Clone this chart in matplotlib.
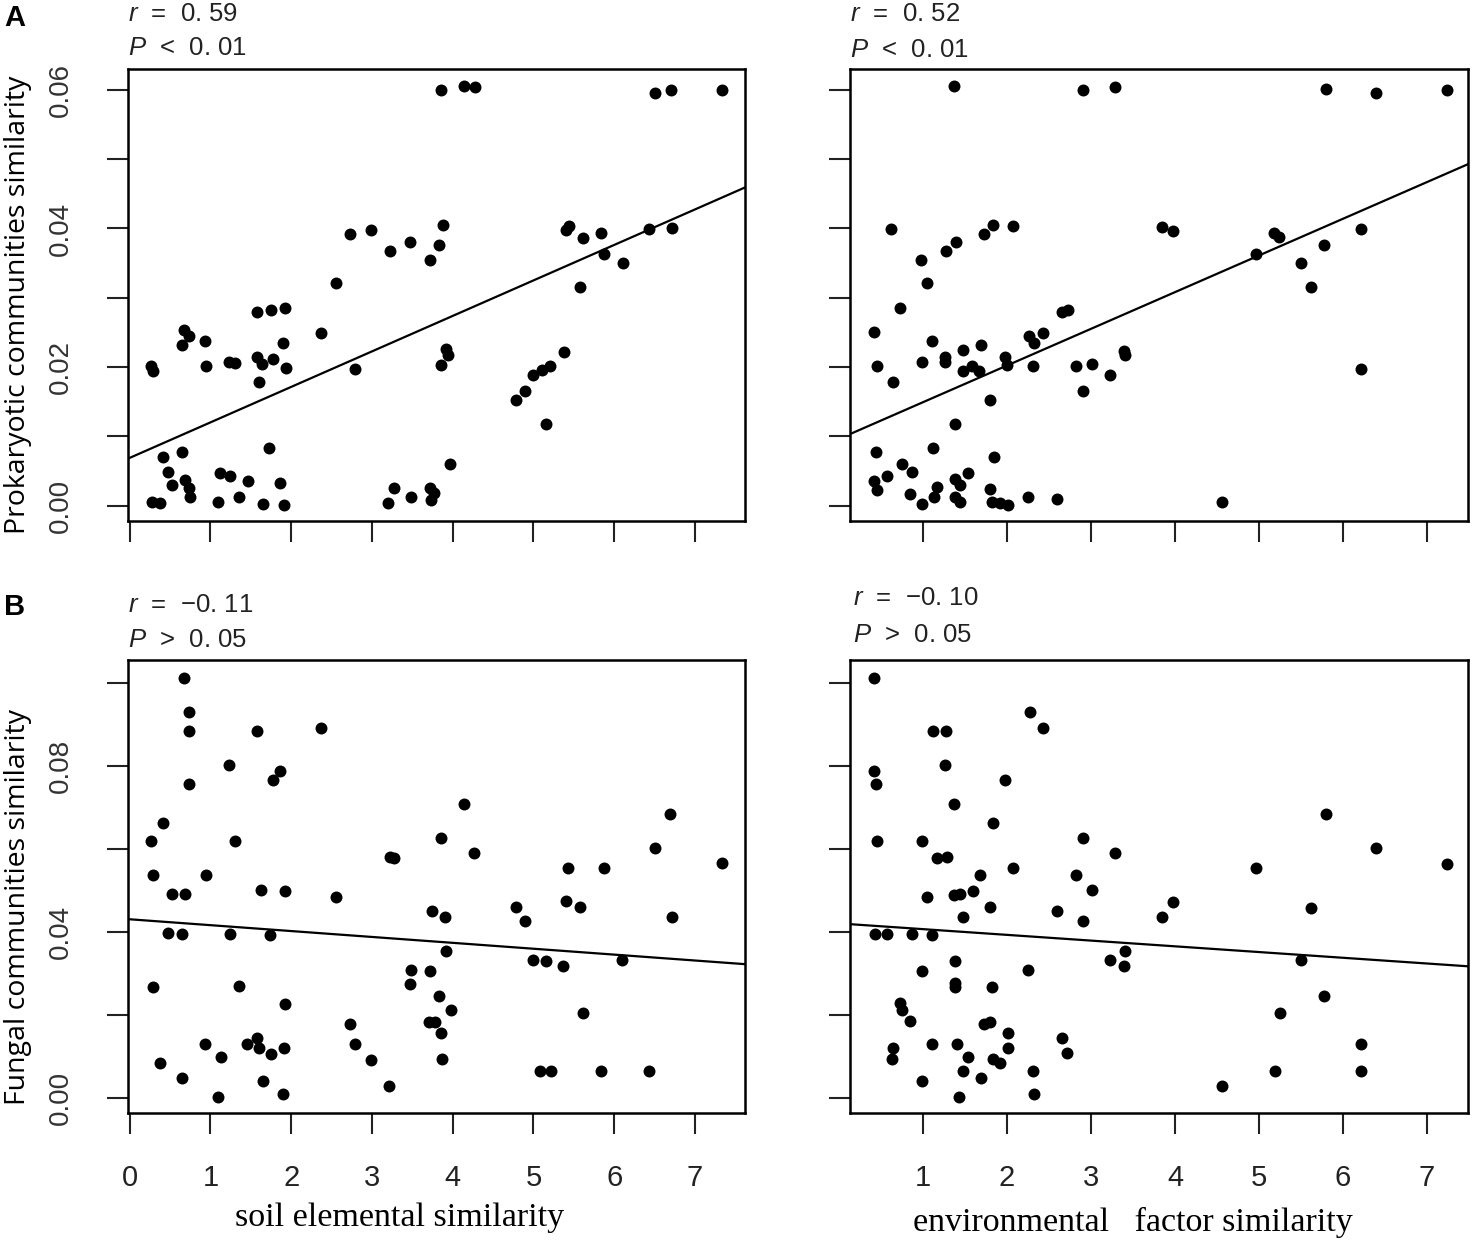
import matplotlib
matplotlib.use("Agg")
import matplotlib.pyplot as plt
import numpy as np

plt.rcParams['font.family'] = ['Liberation Sans', 'DejaVu Sans']
plt.rcParams['mathtext.fontset'] = 'custom'
plt.rcParams['mathtext.it'] = 'Liberation Sans:italic'
plt.rcParams['mathtext.rm'] = 'Liberation Sans'

# ---- data ----
# A, left: prokaryotic similarity vs soil elemental similarity
soil_x_prok = [3.86, 4.14, 4.28, 6.51, 6.70, 7.33, 2.73, 2.99, 3.22, 3.47, 3.83, 3.88, 3.72, 2.56,
               5.40, 5.44, 5.62, 5.84, 6.43, 6.72, 5.88, 6.11, 5.58, 1.58, 1.75, 1.93, 2.37, 0.67,
               0.74, 0.65, 0.93, 1.90, 0.27, 0.29, 0.95, 1.23, 1.31, 1.58, 1.64, 1.77, 1.94, 1.60,
               2.79, 3.92, 3.94, 3.86, 5.38, 5.21, 5.11, 5.00, 4.90, 4.78, 5.16, 0.41, 0.65, 1.73,
               0.48, 0.52, 0.68, 0.74, 0.75, 1.12, 1.24, 1.46, 1.86, 0.28, 0.38, 1.10, 1.36, 1.65,
               1.91, 3.97, 3.27, 3.20, 3.49, 3.72, 3.77, 3.73]
prok_soil_y = [0.0600, 0.0606, 0.0604, 0.0595, 0.0600, 0.0599, 0.0392, 0.0398, 0.0368, 0.0381,
               0.0376, 0.0405, 0.0355, 0.0321, 0.0398, 0.0404, 0.0386, 0.0393, 0.0399, 0.0401,
               0.0363, 0.0350, 0.0315, 0.0279, 0.0282, 0.0285, 0.0249, 0.0253, 0.0245, 0.0232,
               0.0238, 0.0235, 0.0202, 0.0195, 0.0202, 0.0208, 0.0206, 0.0215, 0.0205, 0.0212,
               0.0198, 0.0178, 0.0197, 0.0226, 0.0218, 0.0203, 0.0222, 0.0202, 0.0196, 0.0189,
               0.0165, 0.0152, 0.0118, 0.0071, 0.0077, 0.0084, 0.0049, 0.0030, 0.0037, 0.0025,
               0.0013, 0.0047, 0.0043, 0.0036, 0.0033, 0.0006, 0.0004, 0.0006, 0.0013, 0.0003,
               0.0001, 0.0060, 0.0026, 0.0004, 0.0013, 0.0025, 0.0018, 0.0009]

# A, right: prokaryotic similarity vs environmental factor similarity
env_x_prok = [1.37, 2.90, 3.29, 5.80, 6.39, 7.24, 0.62, 0.98, 1.27, 1.39, 1.72, 1.83, 2.07, 1.05,
              0.73, 3.84, 3.98, 5.18, 5.24, 4.96, 5.77, 6.22, 5.50, 5.62, 6.21, 0.42, 1.11, 0.45,
              0.64, 0.99, 1.26, 1.26, 1.48, 1.69, 1.48, 1.58, 1.67, 1.97, 2.00, 2.26, 2.32, 2.43,
              2.66, 2.73, 2.31, 2.82, 3.01, 3.23, 3.39, 3.41, 2.91, 1.80, 1.38, 0.44, 1.12, 1.84,
              0.75, 0.87, 0.57, 0.42, 0.45, 1.53, 1.38, 1.44, 1.17, 1.13, 0.84, 0.99, 1.38, 1.44,
              1.80, 1.82, 1.92, 2.01, 2.25, 2.59, 4.56]
prok_env_y = [0.0606, 0.0600, 0.0604, 0.0601, 0.0595, 0.0599, 0.0399, 0.0355, 0.0368, 0.0381,
              0.0392, 0.0405, 0.0403, 0.0321, 0.0285, 0.0402, 0.0397, 0.0394, 0.0387, 0.0363,
              0.0376, 0.0399, 0.0350, 0.0315, 0.0197, 0.0250, 0.0238, 0.0201, 0.0178, 0.0207,
              0.0215, 0.0208, 0.0225, 0.0232, 0.0195, 0.0201, 0.0195, 0.0214, 0.0203, 0.0245,
              0.0235, 0.0249, 0.0279, 0.0282, 0.0202, 0.0202, 0.0205, 0.0189, 0.0223, 0.0218,
              0.0165, 0.0152, 0.0118, 0.0077, 0.0084, 0.0071, 0.0060, 0.0049, 0.0043, 0.0035,
              0.0023, 0.0047, 0.0038, 0.0030, 0.0027, 0.0013, 0.0017, 0.0003, 0.0013, 0.0005,
              0.0024, 0.0006, 0.0004, 0.0001, 0.0013, 0.0010, 0.0005]

# B, left: fungal similarity vs soil elemental similarity
soil_x_fung = [0.67, 0.74, 0.74, 1.58, 2.37, 1.23, 1.86, 1.77, 0.74, 4.14, 6.69, 0.41, 0.27, 1.31,
               3.85, 4.27, 3.22, 3.27, 6.51, 7.33, 5.43, 5.88, 0.29, 0.95, 0.52, 0.68, 1.63, 1.93,
               2.56, 4.78, 4.90, 5.40, 5.58, 6.72, 3.74, 3.91, 0.47, 0.65, 1.24, 1.74, 3.92, 5.00,
               5.16, 5.37, 6.10, 3.49, 3.72, 3.47, 0.29, 1.36, 3.83, 3.98, 1.93, 5.62, 2.73, 3.71,
               3.78, 3.86, 2.79, 0.93, 1.45, 1.58, 1.60, 1.75, 1.91, 1.13, 2.99, 3.87, 0.38, 5.08,
               5.22, 5.84, 6.43, 0.65, 1.65, 3.21, 1.10, 1.90]
fung_soil_y = [0.1012, 0.0930, 0.0884, 0.0884, 0.0892, 0.0803, 0.0788, 0.0765, 0.0757, 0.0709,
               0.0683, 0.0661, 0.0618, 0.0619, 0.0627, 0.0590, 0.0581, 0.0577, 0.0601, 0.0565,
               0.0554, 0.0554, 0.0537, 0.0537, 0.0491, 0.0490, 0.0500, 0.0499, 0.0484, 0.0459,
               0.0427, 0.0475, 0.0459, 0.0436, 0.0451, 0.0436, 0.0396, 0.0394, 0.0394, 0.0392,
               0.0354, 0.0332, 0.0330, 0.0318, 0.0332, 0.0308, 0.0305, 0.0274, 0.0267, 0.0269,
               0.0246, 0.0211, 0.0225, 0.0205, 0.0178, 0.0183, 0.0183, 0.0155, 0.0129, 0.0129,
               0.0129, 0.0145, 0.0120, 0.0105, 0.0120, 0.0097, 0.0091, 0.0092, 0.0083, 0.0064,
               0.0064, 0.0064, 0.0065, 0.0048, 0.0039, 0.0028, 0.0002, 0.0010]

# B, right: fungal similarity vs environmental factor similarity
env_x_fung = [0.42, 2.27, 2.43, 1.12, 1.27, 1.26, 0.42, 0.44, 1.97, 1.37, 5.80, 1.83, 0.45, 0.99,
              2.90, 3.29, 1.17, 1.28, 6.39, 7.24, 4.96, 2.07, 1.68, 2.82, 1.05, 1.37, 1.44, 1.59,
              3.01, 1.80, 1.48, 2.59, 2.90, 3.98, 3.84, 5.62, 0.43, 0.57, 0.87, 1.11, 3.41, 3.23,
              3.39, 5.50, 1.38, 0.99, 2.25, 1.38, 1.38, 1.82, 5.77, 5.25, 0.72, 0.75, 0.84, 1.72,
              1.80, 2.01, 2.66, 2.72, 0.64, 0.63, 1.11, 1.41, 2.01, 1.53, 1.83, 1.92, 6.21, 6.22,
              5.19, 1.48, 2.31, 0.99, 1.69, 4.56, 1.43, 2.32]
fung_env_y = [0.1012, 0.0930, 0.0892, 0.0884, 0.0884, 0.0803, 0.0788, 0.0757, 0.0765, 0.0709,
              0.0683, 0.0661, 0.0618, 0.0619, 0.0627, 0.0590, 0.0577, 0.0581, 0.0601, 0.0563,
              0.0554, 0.0554, 0.0536, 0.0537, 0.0484, 0.0488, 0.0490, 0.0499, 0.0500, 0.0459,
              0.0436, 0.0450, 0.0427, 0.0472, 0.0436, 0.0458, 0.0394, 0.0394, 0.0394, 0.0392,
              0.0354, 0.0332, 0.0318, 0.0332, 0.0330, 0.0305, 0.0308, 0.0276, 0.0267, 0.0267,
              0.0246, 0.0205, 0.0227, 0.0211, 0.0185, 0.0178, 0.0183, 0.0155, 0.0145, 0.0107,
              0.0120, 0.0092, 0.0129, 0.0129, 0.0120, 0.0097, 0.0092, 0.0083, 0.0129, 0.0065,
              0.0064, 0.0065, 0.0064, 0.0039, 0.0048, 0.0028, 0.0002, 0.0010]

# fitted lines (intercept, slope) as drawn
fit_prok_soil = (0.0069, 0.00512)
fit_prok_env = (0.00965, 0.00529)
fit_fung_soil = (0.0430, -0.00142)
fit_fung_env = (0.0420, -0.00138)

stats_text = {
    'TL': ('0. 59', '<', '0. 01'),
    'TR': ('0. 52', '<', '0. 01'),
    'BL': ('\u22120. 11', '>', '0. 05'),
    'BR': ('\u22120. 10', '>', '0. 05'),
}

prok_yticks = [0.00, 0.01, 0.02, 0.03, 0.04, 0.05, 0.06]
prok_ylabels = ['0.00', '', '0.02', '', '0.04', '', '0.06']
fung_yticks = [0.00, 0.02, 0.04, 0.06, 0.08, 0.10]
fung_ylabels = ['0.00', '', '0.04', '', '0.08', '']
soil_xticks = [0, 1, 2, 3, 4, 5, 6, 7]
env_xticks = [1, 2, 3, 4, 5, 6, 7]

W, H = 1473, 1247
fig = plt.figure(figsize=(W / 100, H / 100), dpi=100)


def box(x0, y0, x1, y1):
    return [x0 / W, 1 - y1 / H, (x1 - x0) / W, (y1 - y0) / H]


ax_tl = fig.add_axes(box(128, 69, 745, 521))
ax_tr = fig.add_axes(box(850, 69, 1468, 521))
ax_bl = fig.add_axes(box(128, 660, 745, 1113))
ax_br = fig.add_axes(box(850, 660, 1468, 1113))

panels = [
    (ax_tl, soil_x_prok, prok_soil_y, fit_prok_soil, (-0.02, 7.62), (-0.0022, 0.0630)),
    (ax_tr, env_x_prok, prok_env_y, fit_prok_env, (0.13, 7.49), (-0.0022, 0.0630)),
    (ax_bl, soil_x_fung, fung_soil_y, fit_fung_soil, (-0.02, 7.62), (-0.0037, 0.1055)),
    (ax_br, env_x_fung, fung_env_y, fit_fung_env, (0.13, 7.49), (-0.0037, 0.1055)),
]

for ax, xs, ys, fit, xl, yl in panels:
    ax.plot(xs, ys, 'o', color='black', markersize=8.6, markeredgewidth=0)
    xx = np.array(xl)
    ax.plot(xx, fit[0] + fit[1] * xx, color='black', lw=1.6)
    ax.set_xlim(xl)
    ax.set_ylim(yl)
    for s in ax.spines.values():
        s.set_linewidth(1.8)
    ax.tick_params(direction='out', length=15, width=1.5, color='#222222')
    ax.tick_params(axis='x', pad=22, labelsize=21, labelcolor='#222222')
    ax.tick_params(axis='y', pad=24, labelsize=20, labelcolor='#333333')

# tick layout
for ax in (ax_tl, ax_tr):
    ax.set_yticks(prok_yticks)
    ax.set_yticklabels(prok_ylabels, rotation=90, va='center')
for ax in (ax_bl, ax_br):
    ax.set_yticks(fung_yticks)
    ax.set_yticklabels(fung_ylabels, rotation=90, va='center')
for ax in (ax_tl, ax_bl):
    ax.set_xticks(soil_xticks)
for ax in (ax_tr, ax_br):
    ax.set_xticks(env_xticks)
    ax.tick_params(axis='y', labelleft=False)
for ax in (ax_tl, ax_tr):
    ax.tick_params(axis='x', labelbottom=False)

# r / P annotations above each panel
stat_pos = {'TL': (128, 14, 48), 'TR': (850, 14, 50), 'BL': (128, 605, 640), 'BR': (853, 598, 635)}
for key, (px, ry, py) in stat_pos.items():
    r_val, sign, p_val = stats_text[key]
    fig.text(px / W, 1 - ry / H, r'$\it{r}$  =  ' + r_val, fontsize=18.5, color='#222222',
             ha='left', va='center')
    fig.text(px / W, 1 - py / H, r'$\it{P}$  ' + sign + '  ' + p_val, fontsize=18.5,
             color='#222222', ha='left', va='center')

# panel letters
fig.text(4 / W, 1 - 18 / H, 'A', fontsize=21, fontweight='bold', ha='left', va='center')
fig.text(4 / W, 1 - 607 / H, 'B', fontsize=21, fontweight='bold', ha='left', va='center')

# axis titles
fig.text(18 / W, 1 - 305 / H, 'Prokaryotic communities similarity', rotation=90,
         fontsize=20.5, family=['Open Sans', 'DejaVu Sans'], ha='center', va='center')
fig.text(18 / W, 1 - 907 / H, 'Fungal communities similarity', rotation=90,
         fontsize=20.5, family=['Open Sans', 'DejaVu Sans'], ha='center', va='center')
fig.text(400 / W, 1 - 1218 / H, 'soil elemental similarity', fontsize=24.5,
         family=['Liberation Serif', 'DejaVu Serif'], ha='center', va='center')
fig.text(1133 / W, 1 - 1222 / H, 'environmental   factor similarity', fontsize=24.5,
         family=['Liberation Serif', 'DejaVu Serif'], ha='center', va='center')

fig.savefig('out.png', dpi=100)
